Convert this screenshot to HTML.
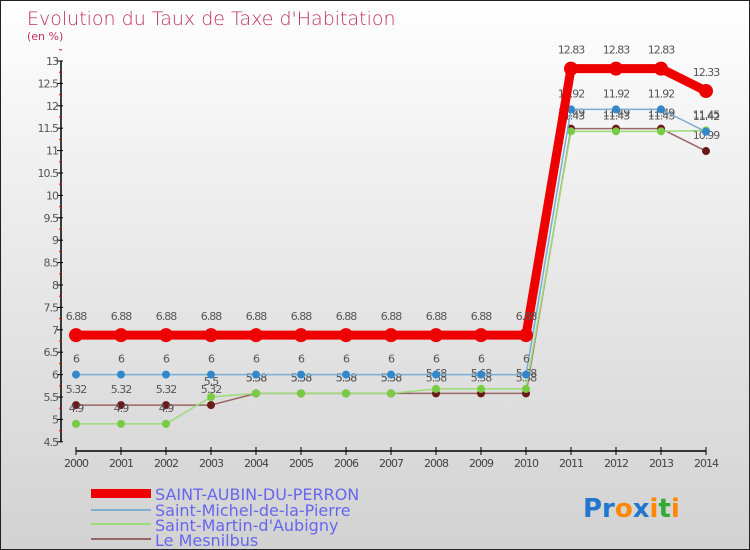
<!DOCTYPE html>
<html><head><meta charset="utf-8">
<style>
body{margin:0;}
#wrap{width:750px;height:550px;position:relative;overflow:hidden;background:linear-gradient(#ffffff 0%,#f0f0f0 30%,#d2d2d2 100%);box-sizing:border-box;border:1px solid #222;font-family:"DejaVu Sans","Liberation Sans",sans-serif;}
svg text{font-family:"DejaVu Sans","Liberation Sans",sans-serif;}
</style></head>
<body>
<div id="wrap">
<svg id="chart" width="750" height="550">
<text x="26" y="24" font-size="19" fill="#c0305e" style="font-weight:300">Evolution du Taux de Taxe d'Habitation</text>
<text x="26" y="39" font-size="11" fill="#c0305e">(en %)</text>
<g id="axes"></g>
<g id="series"></g>
<g id="legend">
<rect x="90" y="488" width="60" height="9" fill="#ee0000"/>
<text x="154" y="499" font-size="16" fill="#6666ee">SAINT-AUBIN-DU-PERRON</text>
<rect x="90" y="508" width="60" height="2" fill="#7fb0d0"/>
<text x="154" y="515" font-size="16" fill="#6666ee">Saint-Michel-de-la-Pierre</text>
<rect x="90" y="522" width="60" height="2" fill="#99dd77"/>
<text x="154" y="530" font-size="16" fill="#6666ee">Saint-Martin-d'Aubigny</text>
<rect x="90" y="537" width="60" height="2" fill="#996666"/>
<text x="154" y="545" font-size="16" fill="#6666ee">Le Mesnilbus</text>
</g>
<g font-size="26" font-weight="bold">
<text x="582" y="516"><tspan fill="#2277cc">Pr</tspan><tspan fill="#ff8800">o</tspan><tspan fill="#2277cc">x</tspan><tspan fill="#ff8800">i</tspan><tspan fill="#33aa33">t</tspan><tspan fill="#ff8800">i</tspan></text>
</g>
</svg>
</div>
<script>
const years=[2000,2001,2002,2003,2004,2005,2006,2007,2008,2009,2010,2011,2012,2013,2014];
const yTicks=[4.5,5,5.5,6,6.5,7,7.5,8,8.5,9,9.5,10,10.5,11,11.5,12,12.5,13];
const saintAubin=[6.88,6.88,6.88,6.88,6.88,6.88,6.88,6.88,6.88,6.88,6.88,12.83,12.83,12.83,12.33];
const saintMichel=[6,6,6,6,6,6,6,6,6,6,6,11.92,11.92,11.92,11.42];
const saintMartin=[4.9,4.9,4.9,5.5,5.58,5.58,5.58,5.58,5.68,5.68,5.68,11.43,11.43,11.43,11.45];
const mesnilbus=[5.32,5.32,5.32,5.32,5.58,5.58,5.58,5.58,5.58,5.58,5.58,11.49,11.49,11.49,10.99];
const NS="http://www.w3.org/2000/svg";
const X0=75,XS=45,Y13=60,YU=44.8;
function xs(i){return X0+i*XS;}
function ys(v){return Y13+(13-v)*YU;}
function mk(t,a,p){const e=document.createElementNS(NS,t);for(const k in a)e.setAttribute(k,a[k]);p.appendChild(e);return e;}
const ax=document.getElementById('axes');
let l=mk('line',{x1:60,y1:ys(13),x2:60,y2:ys(4.5),stroke:'#000','stroke-width':1.5},ax);


yTicks.forEach(v=>{
  let t=mk('line',{x1:56,y1:ys(v),x2:62,y2:ys(v),stroke:'#000'},ax);
  
  
  let m=mk('line',{x1:58,y1:ys(v+0.25),x2:61,y2:ys(v+0.25),stroke:'#ee0000'},ax);
  
  
  let tx=mk('text',{x:57,y:ys(v)+4,'font-size':11,fill:'#555','text-anchor':'end','letter-spacing':'-1'},ax);
  tx.textContent=String(v);
  
  
});
let xa=mk('line',{x1:xs(0),y1:450,x2:xs(14),y2:450,stroke:'#000','stroke-width':1.5},ax);


years.forEach((y,i)=>{
  let t=mk('line',{x1:xs(i),y1:446,x2:xs(i),y2:454,stroke:'#000'},ax);
  
  
  let tx=mk('text',{x:xs(i),y:466,'font-size':11,fill:'#444','text-anchor':'middle','letter-spacing':'-1'},ax);
  tx.textContent=String(y);
  
  
});
const sg=document.getElementById('series');
function series(vals,color,lw,r,dot,name){
  const g=mk('g',{},sg);
  
  
  let pl=mk('polyline',{points:vals.map((v,i)=>xs(i)+','+ys(v)).join(' '),fill:'none',stroke:color,'stroke-width':lw,'stroke-linejoin':'round'},g);
  
  
  vals.forEach((v,i)=>{
    let c=mk('circle',{cx:xs(i),cy:ys(v),r:r,fill:dot},g);
    
    
    let tx=mk('text',{x:xs(i),y:ys(v)-(r+8),'font-size':11,fill:'#555','text-anchor':'middle','letter-spacing':'-1'},g);
    tx.textContent=String(v);
    
    
  });
}
series(mesnilbus,'#996666',1.5,4,'#6b1a1a','series-le-mesnilbus');
series(saintMartin,'#99dd77',1.5,4,'#77cc44','series-saint-martin');
series(saintMichel,'#77aed6',1.5,4,'#3388cc','series-saint-michel');
series(saintAubin,'#ee0000',9,7,'#ee0000','series-saint-aubin');
</script>
</body></html>
